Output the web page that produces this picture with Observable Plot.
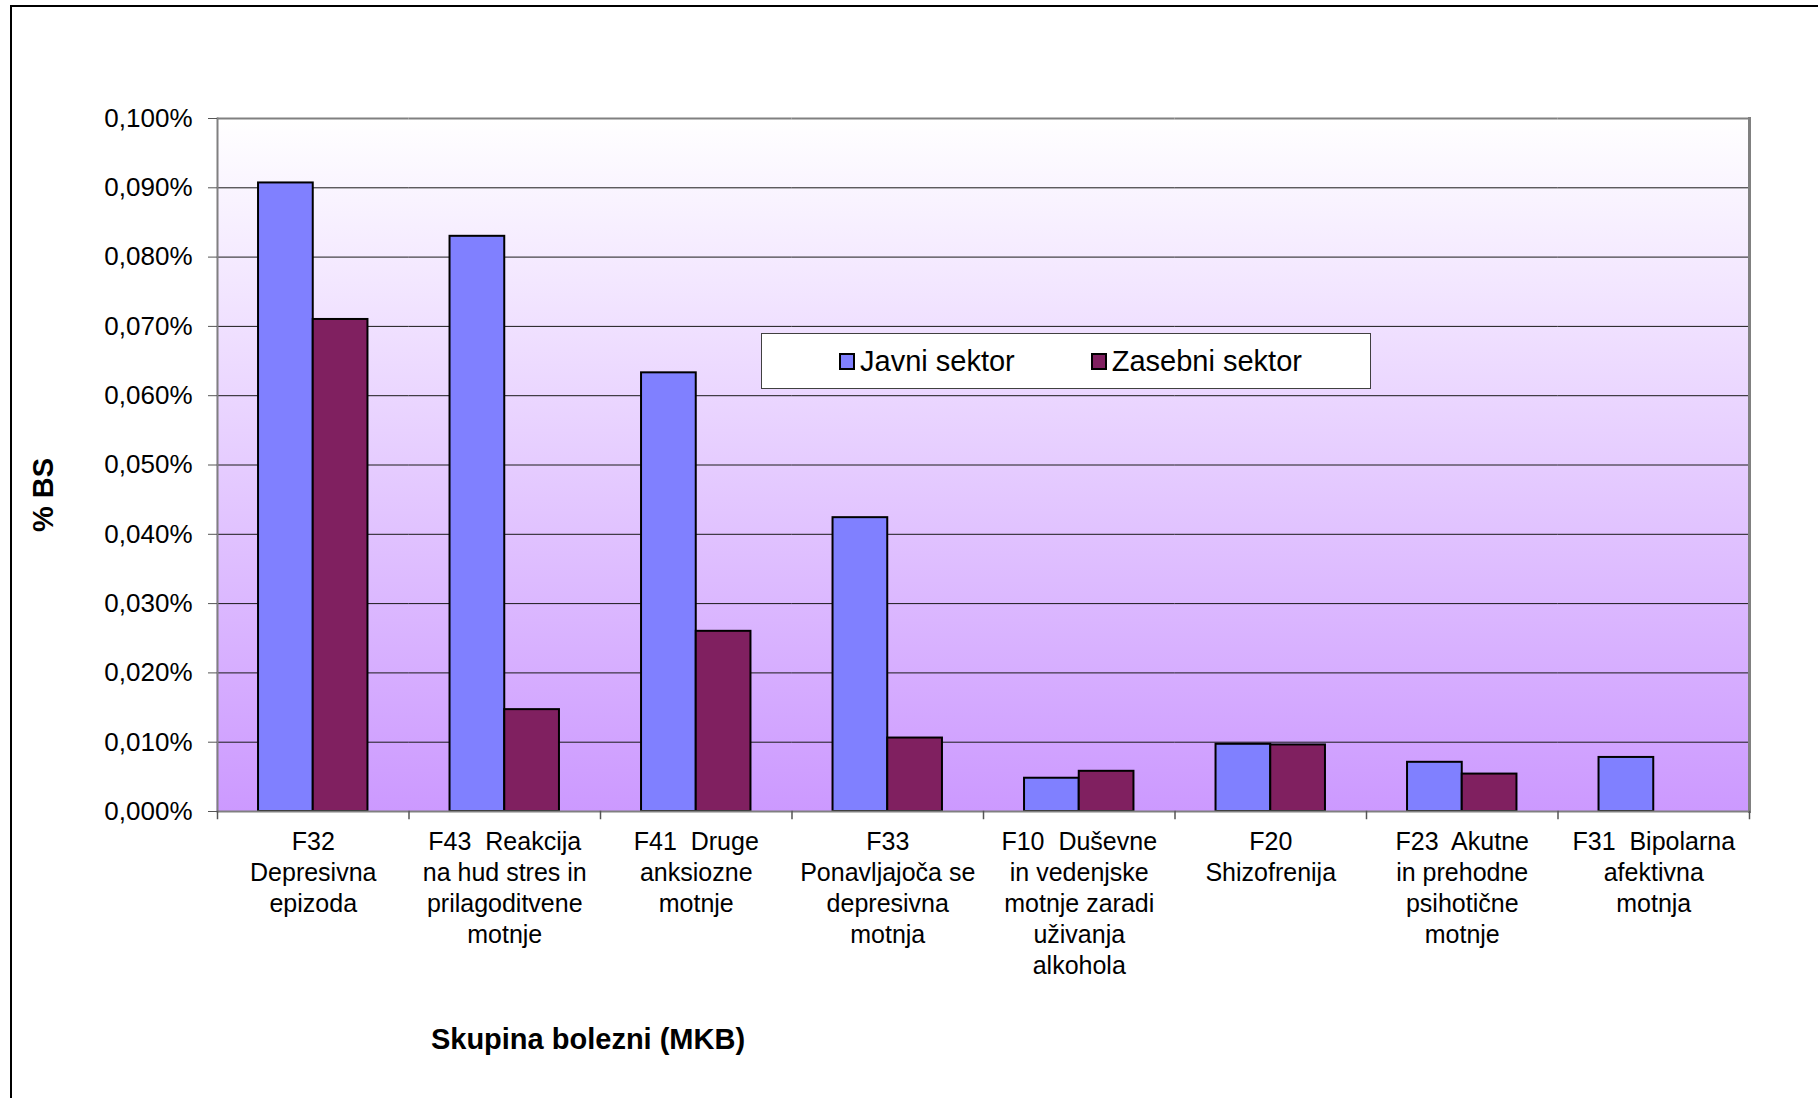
<!DOCTYPE html>
<html>
<head>
<meta charset="utf-8">
<script src="https://cdn.jsdelivr.net/npm/d3@7"></script>
<script src="https://cdn.jsdelivr.net/npm/@observablehq/plot@0.6"></script>
<style>
  html, body { margin: 0; padding: 0; background: #fff; }
  #wrap { position: relative; width: 1818px; height: 1098px; overflow: hidden; font-family: "Liberation Sans", Arial, sans-serif; }
  #outer { position: absolute; left: 10px; top: 5px; width: 1900px; height: 1200px; border: 2px solid #000; box-sizing: border-box; }
  #chart { position: absolute; left: 0; top: 0; }
  #chart svg text { white-space: pre; }
  .legend { position: absolute; left: 761px; top: 333px; width: 610px; height: 56px; box-sizing: border-box; background: #fff; border: 1px solid #404040; display: flex; align-items: center; padding-left: 77px; gap: 76px; font-size: 29px; color: #000; }
  .legend .item { display: flex; align-items: center; gap: 5px; }
  .legend .sw { width: 12px; height: 13px; border: 2px solid #000; }
  .ytitle { position: absolute; left: 43px; top: 495px; transform: translate(-50%, -50%) rotate(-90deg); font-weight: bold; font-size: 29px; line-height: 1; white-space: nowrap; }
  .xtitle { position: absolute; left: 388px; width: 400px; top: 1025px; text-align: center; font-weight: bold; font-size: 29px; line-height: 29px; white-space: nowrap; }
</style>
</head>
<body>
<div id="wrap">
  <div id="outer"></div>
  <div id="chart"></div>
</div>
<script>
// ---- data ----
const categories = [
  "F32\nDepresivna\nepizoda",
  "F43  Reakcija\nna hud stres in\nprilagoditvene\nmotnje",
  "F41  Druge\nanksiozne\nmotnje",
  "F33\nPonavljajoča se\ndepresivna\nmotnja",
  "F10  Duševne\nin vedenjske\nmotnje zaradi\nuživanja\nalkohola",
  "F20\nShizofrenija",
  "F23  Akutne\nin prehodne\npsihotične\nmotnje",
  "F31  Bipolarna\nafektivna\nmotnja"
];
const series = ["Javni sektor", "Zasebni sektor"];
const colors = ["#8080FF", "#802060"];
// values in % of BS
const javni   = [0.0907, 0.0830, 0.0633, 0.0424, 0.0048, 0.0097, 0.0071, 0.0078];
const zasebni = [0.0710, 0.0147, 0.0260, 0.0106, 0.0058, 0.0096, 0.0054, null];
const yTicks = [0, 0.01, 0.02, 0.03, 0.04, 0.05, 0.06, 0.07, 0.08, 0.09, 0.10];
const yLabel = "% BS";
const xLabel = "Skupina bolezni (MKB)";

// ---- build ----
const rows = [];
categories.forEach((c, i) => {
  [javni, zasebni].forEach((arr, s) => {
    if (arr[i] != null) rows.push({category: c, series: series[s], value: arr[i]});
  });
});

const locale = d3.formatLocale({decimal: ",", thousands: ".", grouping: [3], currency: ["", " €"]});
const f3 = locale.format(".3f");
const fmt = v => f3(v) + "%";

const plot = Plot.plot({
  width: 1818,
  height: 1098,
  marginLeft: 217,
  marginRight: 69,
  marginTop: 118,
  marginBottom: 287,
  style: {fontFamily: "'Liberation Sans', Arial, sans-serif", fontSize: "25px", background: "transparent", color: "#000", overflow: "visible"},
  fx: {domain: categories, padding: 0, round: false},
  x: {domain: series, paddingInner: 0, paddingOuter: 0.75, round: false, axis: null},
  y: {domain: [0, 0.1]},
  color: {domain: series, range: colors},
  marks: [
    Plot.frame({fill: "url(#bgGrad)", insetLeft: -1, insetRight: -1}),
    Plot.gridY({ticks: yTicks.slice(1, -1), stroke: "#1a1a1a", strokeOpacity: 1, strokeWidth: 1}),
    Plot.ruleY([yTicks[yTicks.length - 1]], {stroke: "#808080", strokeWidth: 2}),
    Plot.barY(rows, {fx: "category", x: "series", y: "value", fill: "series", stroke: "#000", strokeWidth: 2}),
    Plot.ruleY([0], {stroke: "#808080", strokeWidth: 2}),
    Plot.frame({anchor: "left", facetAnchor: "left", stroke: "#808080", strokeWidth: 2}),
    Plot.frame({anchor: "right", facetAnchor: "right", stroke: "#808080", strokeWidth: 3}),
    Plot.frame({anchor: "left", insetTop: 693, insetBottom: -7, stroke: "#555", strokeWidth: 1.5}),
    Plot.frame({anchor: "right", facetAnchor: "right", insetTop: 693, insetBottom: -7, stroke: "#555", strokeWidth: 1.5}),
    Plot.axisY({ticks: yTicks, tickFormat: fmt, tickSize: 9, tickPadding: 16, fontSize: 26, stroke: "#555", fill: "#000", label: null}),
    Plot.axisFx({anchor: "bottom", tickSize: 0, tickPadding: 16, fontSize: 25, lineHeight: 1.24, label: null, fill: "#000"})
  ]
});

// gradient background definition
const defs = d3.select(plot).insert("defs", ":first-child");
const grad = defs.append("linearGradient").attr("id", "bgGrad").attr("x1", 0).attr("y1", 0).attr("x2", 0).attr("y2", 1);
grad.append("stop").attr("offset", "0%").attr("stop-color", "#FFFFFF");
grad.append("stop").attr("offset", "100%").attr("stop-color", "#CC99FF");

document.getElementById("chart").appendChild(plot);

// legend
const wrap = document.getElementById("wrap");
const legend = document.createElement("div");
legend.className = "legend";
series.forEach((s, i) => {
  const item = document.createElement("div");
  item.className = "item";
  const sw = document.createElement("div");
  sw.className = "sw";
  sw.style.background = colors[i];
  const t = document.createElement("span");
  t.textContent = s;
  item.appendChild(sw); item.appendChild(t);
  legend.appendChild(item);
});
wrap.appendChild(legend);

const yt = document.createElement("div");
yt.className = "ytitle"; yt.textContent = yLabel;
wrap.appendChild(yt);
const xt = document.createElement("div");
xt.className = "xtitle"; xt.textContent = xLabel;
wrap.appendChild(xt);
</script>
</body>
</html>
